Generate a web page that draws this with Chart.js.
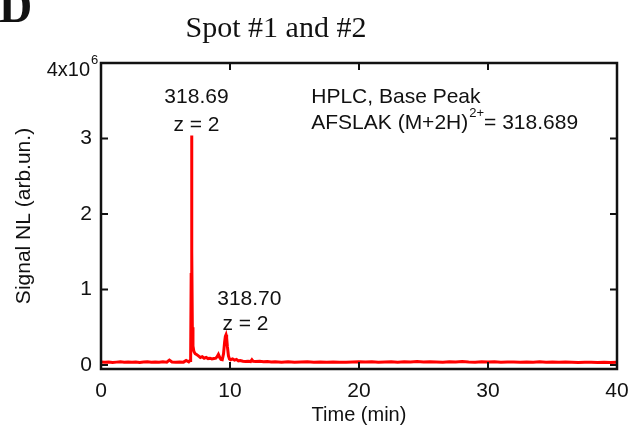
<!DOCTYPE html>
<html>
<head>
<meta charset="utf-8">
<script src="https://cdn.jsdelivr.net/npm/chart.js@4.4.0/dist/chart.umd.min.js"></script>
<style>
  html, body { margin: 0; padding: 0; background: #fff; }
  #wrap { width: 628px; height: 436px; position: relative; }
</style>
</head>
<body>
<div id="wrap"><canvas id="chart" width="628" height="436"></canvas></div>
<script>
// tiempos (min) y señal (x10^6, arb.un.)
const tiempos = [
  0, 0.3, 0.6, 0.9, 1.2, 1.5, 1.8, 2.1, 2.4, 2.7, 3.0, 3.3, 3.6, 3.9, 4.2, 4.5, 4.8, 5.1, 5.3, 5.5,
  5.8, 6.1, 6.4, 6.6, 6.8, 6.9, 6.95, 6.99, 7.02, 7.05, 7.08, 7.13, 7.2, 7.3, 7.4, 7.55, 7.7, 7.85,
  8.0, 8.15, 8.3, 8.45, 8.6, 8.75, 8.9, 9.0, 9.1, 9.2, 9.3, 9.4, 9.5, 9.58, 9.64, 9.69, 9.74, 9.8,
  9.88, 9.96, 10.05, 10.2, 10.35, 10.5, 10.65, 10.8, 11.0, 11.2, 11.4, 11.6, 11.7, 11.8, 12.0, 12.3,
  12.6, 12.9, 13.2, 13.5, 14, 14.5, 15, 15.5, 16, 16.5, 17, 17.5, 18, 18.5, 19, 19.5, 20, 20.5, 21,
  21.5, 22, 22.5, 23, 23.5, 24, 24.5, 25, 25.5, 26, 26.5, 27, 27.5, 28, 28.5, 29, 29.5, 30, 30.5,
  31, 31.5, 32, 32.5, 33, 33.5, 34, 34.5, 35, 35.5, 36, 36.5, 37, 37.5, 38, 38.5, 39, 39.5, 40
];
const senal = [
  0.040, 0.035, 0.040, 0.033, 0.038, 0.042, 0.035, 0.040, 0.036, 0.041, 0.034, 0.039, 0.043, 0.036, 0.040, 0.035, 0.042, 0.038, 0.065, 0.040,
  0.036, 0.041, 0.038, 0.060, 0.042, 0.060, 0.10, 1.20, 3.04, 1.50, 0.50, 0.25, 0.18, 0.15, 0.14, 0.12, 0.10, 0.11,
  0.090, 0.10, 0.085, 0.090, 0.080, 0.085, 0.090, 0.11, 0.14, 0.10, 0.075, 0.070, 0.15, 0.30, 0.38, 0.40, 0.36, 0.24,
  0.12, 0.080, 0.070, 0.080, 0.065, 0.075, 0.055, 0.060, 0.050, 0.045, 0.050, 0.045, 0.070, 0.048, 0.045, 0.050,
  0.042, 0.047, 0.040, 0.044, 0.038, 0.042, 0.036, 0.040, 0.043, 0.037, 0.040, 0.035, 0.041, 0.038, 0.036, 0.040, 0.044, 0.039, 0.042,
  0.037, 0.041, 0.044, 0.038, 0.042, 0.040, 0.045, 0.039, 0.043, 0.041, 0.038, 0.044, 0.040, 0.047, 0.041, 0.038, 0.042, 0.040, 0.043,
  0.037, 0.041, 0.039, 0.036, 0.040, 0.038, 0.042, 0.037, 0.039, 0.035, 0.040, 0.037, 0.034, 0.038, 0.036, 0.033, 0.037, 0.034, 0.035
];
const xTicks = [0, 10, 20, 30, 40];
const yTicks = [0, 1, 2, 3, 4];

const FUENTE = "'Liberation Sans', Arial, sans-serif";
const SERIF = "'Liberation Serif', 'Times New Roman', serif";

// Dibuja marco, marcas internas y textos
const decoracion = {
  id: 'decoracion',
  afterDraw(chart) {
    const ctx = chart.ctx;
    const a = chart.chartArea;
    const x = chart.scales.x;
    const y = chart.scales.y;
    ctx.save();

    // marco
    ctx.strokeStyle = '#111';
    ctx.lineWidth = 2.5;
    ctx.strokeRect(a.left, a.top, a.right - a.left, a.bottom - a.top);

    // marcas hacia dentro
    ctx.lineWidth = 2;
    ctx.beginPath();
    xTicks.forEach(function (v) {
      const px = x.getPixelForValue(v);
      ctx.moveTo(px, a.bottom); ctx.lineTo(px, a.bottom - 7);
      ctx.moveTo(px, a.top); ctx.lineTo(px, a.top + 7);
    });
    yTicks.forEach(function (v) {
      const py = y.getPixelForValue(v);
      ctx.moveTo(a.left, py); ctx.lineTo(a.left + 7, py);
      ctx.moveTo(a.right, py); ctx.lineTo(a.right - 7, py);
    });
    ctx.stroke();

    ctx.fillStyle = '#111';

    // 4x10^6
    const p4 = y.getPixelForValue(4);
    ctx.font = '20px ' + FUENTE;
    ctx.textAlign = 'right';
    ctx.textBaseline = 'middle';
    ctx.fillText('4x10', a.left - 11, p4 + 7);
    ctx.font = '13px ' + FUENTE;
    ctx.textAlign = 'left';
    ctx.fillText('6', a.left - 10, p4 - 3);

    // letra del panel y título
    ctx.font = 'bold 46px ' + SERIF;
    ctx.textAlign = 'left';
    ctx.textBaseline = 'alphabetic';
    ctx.fillText('D', -1, 22);
    ctx.font = '30px ' + SERIF;
    ctx.textAlign = 'center';
    ctx.fillText('Spot #1 and #2', 276, 37);

    // títulos de ejes
    ctx.font = '20px ' + FUENTE;
    ctx.fillText('Time (min)', (a.left + a.right) / 2, 421);
    ctx.save();
    ctx.font = '21px ' + FUENTE;
    ctx.translate(30, (a.top + a.bottom) / 2);
    ctx.rotate(-Math.PI / 2);
    ctx.fillText('Signal NL (arb.un.)', 0, 0);
    ctx.restore();

    // anotaciones de picos
    ctx.font = '21px ' + FUENTE;
    ctx.textAlign = 'center';
    ctx.fillText('318.69', x.getPixelForValue(7.4), y.getPixelForValue(3.47));
    ctx.fillText('z = 2', x.getPixelForValue(7.4), y.getPixelForValue(3.1));
    ctx.fillText('318.70', x.getPixelForValue(11.5), y.getPixelForValue(0.79));
    ctx.fillText('z = 2', x.getPixelForValue(11.2), y.getPixelForValue(0.47));

    // leyenda de texto
    ctx.textAlign = 'left';
    const lx = x.getPixelForValue(16.3);
    ctx.fillText('HPLC, Base Peak', lx, y.getPixelForValue(3.47));
    const ly = y.getPixelForValue(3.12);
    const t1 = 'AFSLAK (M+2H)';
    ctx.fillText(t1, lx, ly);
    let w = ctx.measureText(t1).width;
    ctx.font = '13px ' + FUENTE;
    ctx.fillText('2+', lx + w + 1, ly - 12);
    w += ctx.measureText('2+').width + 1;
    ctx.font = '21px ' + FUENTE;
    ctx.fillText('= 318.689', lx + w, ly);

    ctx.restore();
  }
};

const puntos = tiempos.map(function (t, i) { return { x: t, y: senal[i] }; });

new Chart(document.getElementById('chart'), {
  type: 'line',
  data: {
    datasets: [{
      data: puntos,
      borderColor: '#ff0000',
      borderWidth: 3,
      pointRadius: 0,
      tension: 0,
      fill: false
    }]
  },
  options: {
    responsive: false,
    animation: false,
    layout: { padding: { top: 63, right: 11, left: 0, bottom: 0 } },
    plugins: { legend: { display: false }, tooltip: { enabled: false } },
    scales: {
      x: {
        type: 'linear',
        min: 0,
        max: 40,
        afterBuildTicks: function (s) { s.ticks = xTicks.map(function (v) { return { value: v }; }); },
        afterFit: function (s) { s.height = 67; s.paddingLeft = 0; s.paddingRight = 0; },
        grid: { drawOnChartArea: false, drawTicks: false },
        border: { display: false },
        ticks: { padding: 10, color: '#111', font: { size: 21, family: FUENTE }, maxRotation: 0 }
      },
      y: {
        type: 'linear',
        min: -0.053,
        max: 4,
        afterBuildTicks: function (s) { s.ticks = yTicks.map(function (v) { return { value: v }; }); },
        afterFit: function (s) { s.width = 101; s.paddingTop = 0; s.paddingBottom = 0; },
        grid: { drawOnChartArea: false, drawTicks: false },
        border: { display: false },
        ticks: {
          padding: 9,
          color: '#111',
          font: { size: 21, family: FUENTE },
          callback: function (v) { return v === 4 ? '' : String(v); }
        }
      }
    }
  },
  plugins: [decoracion]
});
</script>
</body>
</html>
